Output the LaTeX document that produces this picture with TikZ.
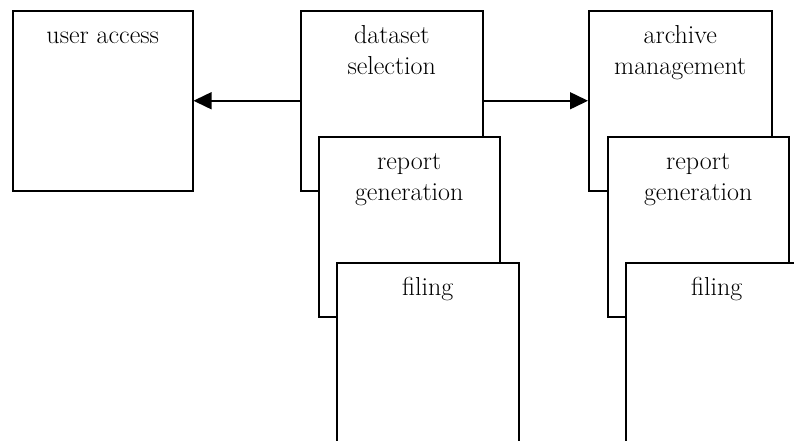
\documentclass[tikz,border=0pt]{standalone}
\usetikzlibrary{arrows.meta}
\begin{document}
\begin{tikzpicture}[x=1pt,y=-1pt,
  box/.style={draw=black,fill=white,line width=1.5pt,rectangle,inner sep=0pt,
    minimum height=180pt,anchor=north west},
  lbl/.style={font=\fontsize{26}{31}\selectfont,align=center,inner sep=0pt,anchor=north},
  arr/.style={line width=1.5pt,-{Triangle[length=18pt,width=17pt]}}]
\useasboundingbox (0,0) rectangle (794,440);
\clip (0,0) rectangle (794,440);
% left box
\node[box,minimum width=180pt] (ua) at (12,10) {};
\node[lbl] (ual) at ([yshift=-11.3pt]ua.north) {\strut user access};
% dataset selection
\node[box,minimum width=182pt] (ds) at (300,10) {};
\node[lbl] (dsl) at ([yshift=-11.3pt]ds.north) {\strut dataset\\\strut selection};
% archive management
\node[box,minimum width=183pt] (am) at (588,10) {};
\node[lbl] (aml) at ([yshift=-11.3pt]am.north) {\strut archive\\\strut management};
% report generation 1
\node[box,minimum width=181pt] (rg1) at (318,136) {};
\node[lbl] (rg1l) at ([yshift=-11.3pt]rg1.north) {\strut report\\\strut generation};
% report generation 2
\node[box,minimum width=181pt] (rg2) at (607,136) {};
\node[lbl] (rg2l) at ([yshift=-11.3pt]rg2.north) {\strut report\\\strut generation};
% filing 1
\node[box,minimum width=182pt] (fi1) at (336,262) {};
\node[lbl] (fi1l) at ([yshift=-11.3pt]fi1.north) {\strut filing};
% filing 2
\node[box,minimum width=182pt] (fi2) at (625,262) {};
\node[lbl] (fi2l) at ([yshift=-11.3pt]fi2.north) {\strut filing};
% arrows
\draw[arr] (ds.west) -- (ua.east);
\draw[arr] (ds.east) -- (am.west);
\end{tikzpicture}
\end{document}
